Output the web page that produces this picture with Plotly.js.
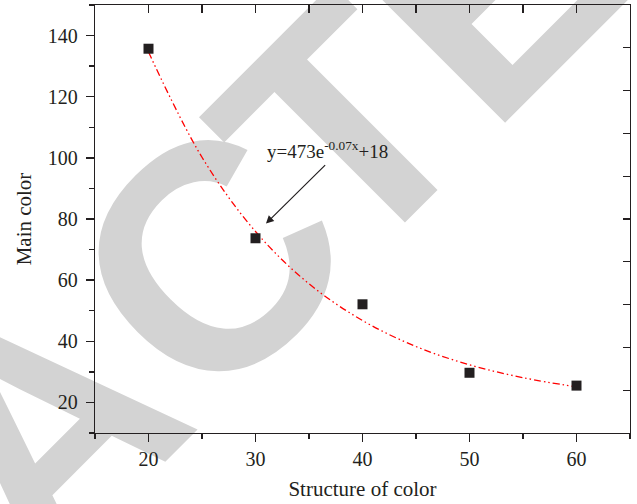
<!DOCTYPE html>
<html>
<head>
<meta charset="utf-8">
<script src="https://cdn.plot.ly/plotly-3.0.1.min.js"></script>
<style>
html,body{margin:0;padding:0;background:#fff;}
#wrap{position:relative;width:637px;height:504px;}
#back,#chart{position:absolute;left:0;top:0;width:637px;height:504px;}
</style>
</head>
<body>
<div id="wrap"><div id="back"></div><div id="chart"></div></div>
<script>
// measured points
const structureX = [20, 30, 40, 50, 60];
const mainColorY = [135.7, 73.7, 52.1, 29.7, 25.5];
// fitted curve
const fitX = [20, 25, 30, 35, 40, 45, 50, 55, 60];
const fitY = [134.6, 100.2, 75.9, 58.8, 46.8, 38.3, 32.3, 28.1, 25.1];
const xTitle = 'Structure of color';
const yTitle = 'Main color';
const eqText = 'y=473e<sup>-0.07x</sup>+18';
const watermark = 'RETRACTED';

const ink = '#231f20';
const serif = 'Liberation Serif, Times New Roman, serif';

// ---- background watermark, letter by letter along a 45deg baseline ----
const W = 637, H = 504;
const wmSize = 320;
const wmBase = 443.5;                      // baseline distance (px) along the "down" direction
const wmOrigins = [-1258, -1027, -814, -618, -387, -151, 54, 249, 462]; // letter origins along baseline (px)
const wmAdv = {R: 0.722, E: 0.667, T: 0.611, A: 0.722, C: 0.722, D: 0.722};
const c45 = Math.SQRT1_2;
const wmAnn = watermark.split('').map((ch, i) => {
  const u = wmOrigins[i] + wmAdv[ch] * wmSize / 2;
  const d = wmBase - 0.3465 * wmSize;
  const px = c45 * (u + d), py = c45 * (d - u);
  return {
    text: ch, xref: 'paper', yref: 'paper', x: px / W, y: 1 - py / H,
    xanchor: 'center', yanchor: 'middle', showarrow: false, textangle: -45,
    font: {family: 'Liberation Sans, Arial, sans-serif', size: wmSize, weight: 'bold', color: '#d3d3d3'}
  };
});
Plotly.newPlot('back', [], {
  width: W, height: H,
  margin: {l: 0, r: 0, t: 0, b: 0},
  paper_bgcolor: '#ffffff', plot_bgcolor: 'rgba(0,0,0,0)',
  xaxis: {visible: false, range: [0, 1]},
  yaxis: {visible: false, range: [0, 1]},
  showlegend: false,
  annotations: wmAnn
}, {staticPlot: true, displayModeBar: false});

const traces = [
  {
    x: fitX, y: fitY, type: 'scatter', mode: 'lines',
    line: {color: '#ff0000', width: 1.3, dash: '7px,3px,1.5px,3px,1.5px,3px', shape: 'spline'},
    hoverinfo: 'skip'
  },
  {
    x: structureX, y: mainColorY, type: 'scatter', mode: 'markers',
    marker: {symbol: 'square', size: 10, color: ink, line: {width: 0}}
  }
];

const layout = {
  width: W, height: H,
  margin: {l: 95, r: 7, t: 5, b: 71},
  paper_bgcolor: 'rgba(0,0,0,0)', plot_bgcolor: 'rgba(0,0,0,0)',
  showlegend: false,
  font: {family: serif, color: ink},
  xaxis: {
    range: [15, 65], tick0: 0, dtick: 10, showgrid: false, zeroline: false,
    showline: true, linecolor: ink, linewidth: 1.3,
    ticks: 'outside', ticklen: 8, tickwidth: 1.3, tickcolor: ink,
    minor: {dtick: 5, tick0: 0, ticks: 'outside', ticklen: 5, tickwidth: 1.3, tickcolor: ink, showgrid: false},
    tickfont: {family: serif, size: 20, color: ink},
    title: {text: xTitle, font: {family: serif, size: 21, color: ink}, standoff: 12}
  },
  yaxis: {
    range: [10, 150], tick0: 0, dtick: 20, showgrid: false, zeroline: false,
    showline: true, linecolor: ink, linewidth: 1.3,
    ticks: 'outside', ticklen: 8, tickwidth: 1.3, tickcolor: ink,
    minor: {dtick: 10, tick0: 0, ticks: 'outside', ticklen: 5, tickwidth: 1.3, tickcolor: ink, showgrid: false},
    tickfont: {family: serif, size: 20, color: ink},
    ticklabelstandoff: 4,
    title: {text: yTitle, font: {family: serif, size: 21, color: ink}, standoff: 10}
  },
  xaxis2: {
    overlaying: 'x', side: 'top', range: [15, 65], tick0: 0, dtick: 5,
    showgrid: false, zeroline: false, showline: true, linecolor: ink, linewidth: 1.3,
    ticks: 'inside', ticklen: 8, tickwidth: 1.3, tickcolor: ink, showticklabels: false
  },
  yaxis2: {
    overlaying: 'y', side: 'right', range: [0, 10], tick0: 0, dtick: 1,
    showgrid: false, zeroline: false, showline: true, linecolor: ink, linewidth: 1.3,
    ticks: 'inside', ticklen: 7, tickwidth: 1.3, tickcolor: ink, showticklabels: false
  },
  annotations: [
    {
      text: eqText, xref: 'x', yref: 'y', x: 36.75, y: 102.7,
      xanchor: 'center', yanchor: 'middle', showarrow: false,
      font: {family: serif, size: 19, color: ink}
    },
    {
      text: '', xref: 'x', yref: 'y', x: 30.98, y: 78.5,
      axref: 'x', ayref: 'y', ax: 36.65, ay: 98.1,
      showarrow: true, arrowhead: 2, arrowsize: 1.3, arrowwidth: 1.2,
      arrowcolor: ink, standoff: 0, startstandoff: 0
    }
  ]
};

// empty trace so the mirrored frame axes are drawn
traces.push({x: [], y: [], xaxis: 'x2', yaxis: 'y2', type: 'scatter', mode: 'markers', hoverinfo: 'skip'});

Plotly.newPlot('chart', traces, layout, {staticPlot: true, displayModeBar: false});
</script>
</body>
</html>
